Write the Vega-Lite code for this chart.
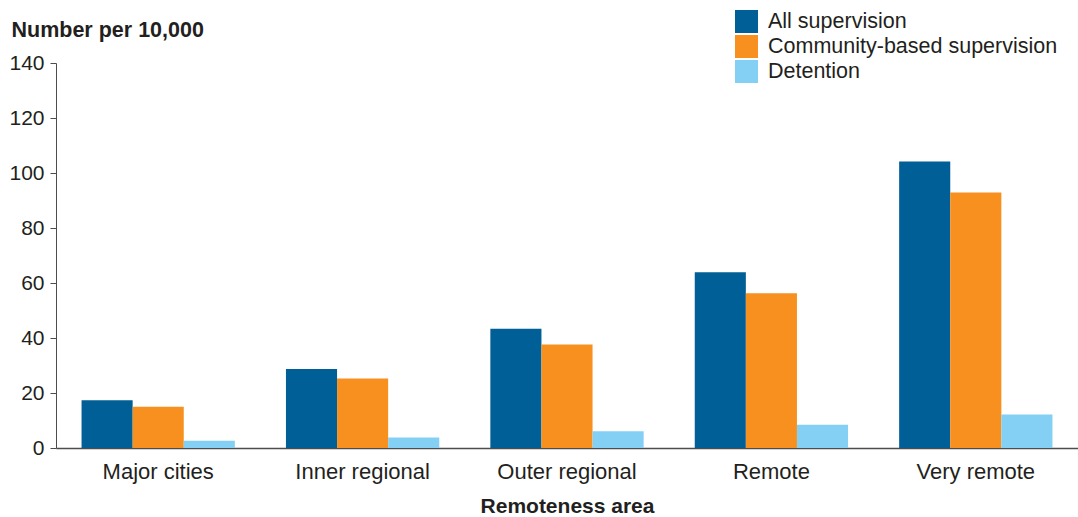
{
  "$schema": "https://vega.github.io/schema/vega-lite/v6.json",
  "width": 1022,
  "height": 385,
  "autosize": {"type": "none"},
  "padding": {"left": 56, "top": 63, "right": 0, "bottom": 69},
  "background": "white",
  "config": {
    "font": "Liberation Sans",
    "view": {"stroke": null}
  },
  "data": {
    "values": [
      {"area": "Major cities", "type": "All supervision", "value": 17.4},
      {"area": "Major cities", "type": "Community-based supervision", "value": 15.0},
      {"area": "Major cities", "type": "Detention", "value": 2.6},
      {"area": "Inner regional", "type": "All supervision", "value": 28.7},
      {"area": "Inner regional", "type": "Community-based supervision", "value": 25.3},
      {"area": "Inner regional", "type": "Detention", "value": 3.8},
      {"area": "Outer regional", "type": "All supervision", "value": 43.4},
      {"area": "Outer regional", "type": "Community-based supervision", "value": 37.6},
      {"area": "Outer regional", "type": "Detention", "value": 6.1},
      {"area": "Remote", "type": "All supervision", "value": 63.9},
      {"area": "Remote", "type": "Community-based supervision", "value": 56.3},
      {"area": "Remote", "type": "Detention", "value": 8.5},
      {"area": "Very remote", "type": "All supervision", "value": 104.2},
      {"area": "Very remote", "type": "Community-based supervision", "value": 92.9},
      {"area": "Very remote", "type": "Detention", "value": 12.2}
    ]
  },
  "mark": {"type": "bar"},
  "encoding": {
    "x": {
      "field": "area",
      "type": "nominal",
      "sort": ["Major cities", "Inner regional", "Outer regional", "Remote", "Very remote"],
      "scale": {"paddingInner": 0.25, "paddingOuter": 0.125},
      "axis": {
        "title": "Remoteness area",
        "titleFontSize": 21,
        "titleFontWeight": "bold",
        "titleColor": "#231f20",
        "titlePadding": 13,
        "labelAngle": 0,
        "labelFontSize": 22,
        "labelColor": "#231f20",
        "labelPadding": 13,
        "ticks": false,
        "domainColor": "#4d4d4d",
        "domainWidth": 1.5
      }
    },
    "xOffset": {
      "field": "type",
      "type": "nominal",
      "sort": ["All supervision", "Community-based supervision", "Detention"],
      "scale": {"paddingInner": 0, "paddingOuter": 0}
    },
    "y": {
      "field": "value",
      "type": "quantitative",
      "scale": {"domain": [0, 140]},
      "axis": {
        "title": "Number per 10,000",
        "titleAngle": 0,
        "titleAlign": "left",
        "titleBaseline": "middle",
        "titleX": -45,
        "titleY": -33,
        "titleFontSize": 21.5,
        "titleFontWeight": "bold",
        "titleColor": "#231f20",
        "values": [0, 20, 40, 60, 80, 100, 120, 140],
        "grid": false,
        "labelFontSize": 21,
        "labelColor": "#231f20",
        "labelPadding": 6,
        "tickSize": 6,
        "tickColor": "#4d4d4d",
        "domainColor": "#4d4d4d"
      }
    },
    "color": {
      "field": "type",
      "type": "nominal",
      "sort": ["All supervision", "Community-based supervision", "Detention"],
      "scale": {
        "domain": ["All supervision", "Community-based supervision", "Detention"],
        "range": ["#005f96", "#f7901e", "#84d0f5"]
      },
      "legend": {
        "title": null,
        "orient": "none",
        "legendX": 679,
        "legendY": -53,
        "symbolType": "square",
        "symbolSize": 529,
        "symbolStrokeWidth": 0,
        "symbolOpacity": 1,
        "rowPadding": 2,
        "labelFontSize": 21.5,
        "labelColor": "#231f20",
        "labelOffset": 10,
        "labelLimit": 400
      }
    }
  }
}
